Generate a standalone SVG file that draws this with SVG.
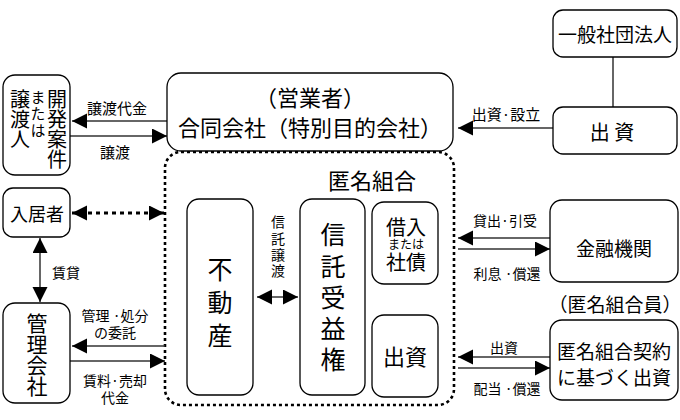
<svg xmlns="http://www.w3.org/2000/svg" width="680" height="420" viewBox="0 0 680 420">
<style>
text{font-family:"Noto Sans CJK JP","Noto Sans",sans-serif;fill:#000;text-anchor:middle;dominant-baseline:central}
.v{writing-mode:vertical-rl}
.box{fill:#fff;stroke:#000;stroke-width:1.3}
.ln{stroke:#333;stroke-width:1.5;fill:none}
.dot{stroke:#000;stroke-width:3;stroke-dasharray:4 4;fill:none}
.s14{font-size:14px}.s15{font-size:15px}.s19{font-size:19px}.s20{font-size:20px}.s22{font-size:22px}.s25{font-size:25px}
</style>
<defs>
<marker id="ah" markerUnits="userSpaceOnUse" markerWidth="16" markerHeight="16" refX="15" refY="7.5" orient="auto-start-reverse" viewBox="0 0 16 16">
<path d="M0,0 L15,7.5 L0,15 z" fill="#000"/>
</marker>
</defs>
<rect x="165" y="152" width="289" height="253" rx="16" fill="none" stroke="#000" stroke-width="2.6" stroke-dasharray="3 3"/>
<g id="connectors">
<line class="ln" x1="613" y1="57" x2="613" y2="107"/>
<line class="ln" x1="553" y1="128" x2="458" y2="128" marker-end="url(#ah)"/>
<line class="ln" x1="167" y1="121" x2="72" y2="121" marker-end="url(#ah)"/>
<line class="ln" x1="70" y1="136" x2="167" y2="136" marker-end="url(#ah)"/>
<line class="dot" x1="72" y1="213" x2="164" y2="213" marker-start="url(#ah)" marker-end="url(#ah)"/>
<line class="ln" x1="40" y1="238" x2="40" y2="302" marker-start="url(#ah)" marker-end="url(#ah)"/>
<line class="ln" x1="165" y1="346" x2="72" y2="346" marker-end="url(#ah)"/>
<line class="ln" x1="70" y1="361" x2="165" y2="361" marker-end="url(#ah)"/>
<line class="ln" x1="257" y1="297" x2="298" y2="297" marker-start="url(#ah)" marker-end="url(#ah)"/>
<line class="ln" x1="550" y1="238" x2="458" y2="238" marker-end="url(#ah)"/>
<line class="ln" x1="458" y1="249" x2="550" y2="249" marker-end="url(#ah)"/>
<line class="ln" x1="550" y1="357" x2="458" y2="357" marker-end="url(#ah)"/>
<line class="ln" x1="458" y1="368" x2="550" y2="368" marker-end="url(#ah)"/>
<text class="s15" x="506" y="113">出資·設立</text>
<text class="s15" x="117" y="107">譲渡代金</text>
<text class="s15" x="115" y="151">譲渡</text>
<text class="s14" x="66" y="272">賃貸</text>
<text class="s14" x="115" y="315">管理 ·処分<tspan x="115" dy="17">の委託</tspan></text>
<text class="s14" x="115" y="380">賃料·売却<tspan x="115" dy="17">代金</tspan></text>
<text class="s14 v" x="278" y="247.6" letter-spacing="2.3">信託譲渡</text>
<text class="s14" x="505" y="220">貸出·引受</text>
<text class="s14" x="507" y="273">利息 ·償還</text>
<text class="s14" x="504" y="347">出資</text>
<text class="s14" x="507" y="388">配当 ·償還</text>
</g>
<g id="ippan">
<rect class="box" x="553" y="10" width="124" height="47" rx="10"/>
<text class="s19" x="615" y="33">一般社団法人</text>
</g>
<g id="shusshi-top">
<rect class="box" x="553" y="107" width="124" height="47" rx="10"/>
<text class="s20" x="612" y="131">出 資</text>
</g>
<g id="goudou">
<rect class="box" x="167" y="73" width="286" height="78" rx="14"/>
<text class="s22" x="310" y="96">（営業者）<tspan x="310" dy="30">合同会社（特別目的会社）</tspan></text>
</g>
<g id="tokumei">
<text class="s22" x="372" y="179">匿名組合</text>
</g>
<g id="kaihatsu">
<rect class="box" x="3" y="75" width="67" height="100" rx="12"/>
<text class="s20 v" x="57" y="129">開発案件</text>
<text class="s15 v" x="38" y="114.25" letter-spacing="1.5">または</text>
<text class="s20 v" x="20" y="119">譲渡人</text>
</g>
<g id="nyukyosha">
<rect class="box" x="3" y="188" width="67" height="49" rx="10"/>
<text x="37" y="213" style="font-size:18px">入居者</text>
</g>
<g id="kanri">
<rect class="box" x="3" y="303" width="67" height="100" rx="12"/>
<text class="v" x="37" y="354.5" style="font-size:21px">管理会社</text>
</g>
<g id="fudosan">
<rect class="box" x="187" y="199" width="66" height="196" rx="12"/>
<text class="s25 v" x="220" y="306" letter-spacing="8">不動産</text>
</g>
<g id="shintaku">
<rect class="box" x="300" y="199" width="65" height="196" rx="12"/>
<text class="s25 v" x="333" y="300.6" letter-spacing="6.25">信託受益権</text>
</g>
<g id="kariire">
<rect class="box" x="372" y="202" width="66" height="82" rx="12"/>
<text class="s20" x="406" y="226">借入<tspan x="406" dy="17" style="font-size:12px">または</tspan><tspan x="406" dy="18">社債</tspan></text>
</g>
<g id="shusshi-inner">
<rect class="box" x="372" y="315" width="66" height="82" rx="12"/>
<text class="s22" x="405" y="355">出資</text>
</g>
<g id="kinyu">
<rect class="box" x="550" y="200" width="128" height="82" rx="12"/>
<text class="s19" x="614" y="247">金融機関</text>
</g>
<g id="kumiaiin">
<text class="s19" x="615" y="303">（匿名組合員）</text>
</g>
<g id="keiyaku">
<rect class="box" x="550" y="320" width="128" height="80" rx="12"/>
<text class="s19" x="614" y="350">匿名組合契約<tspan x="614" dy="26">に基づく出資</tspan></text>
</g>
</svg>
